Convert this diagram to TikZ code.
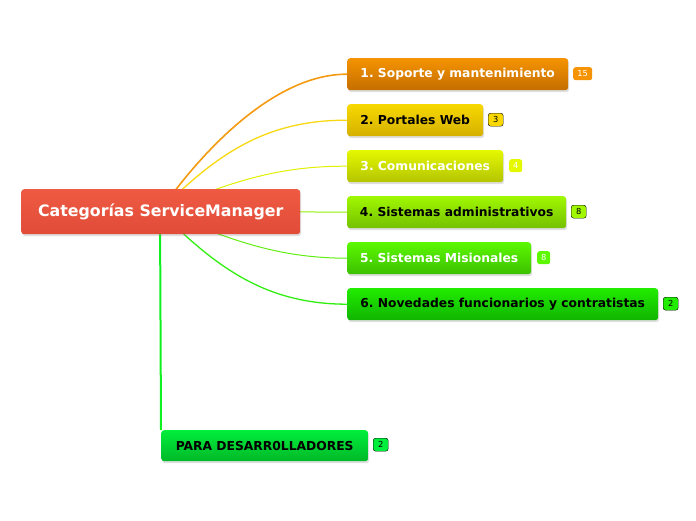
\documentclass[tikz,border=0pt]{standalone}
\usepackage{fontspec}
\setmainfont{DejaVu Sans}
\usetikzlibrary{shadows,backgrounds}
\definecolor{c0t}{HTML}{EE5A42}\definecolor{c0b}{HTML}{E04C38}
\definecolor{c1t}{HTML}{F59300}\definecolor{c1b}{HTML}{C46E00}
\definecolor{c2t}{HTML}{F8D800}\definecolor{c2b}{HTML}{D4B000}
\definecolor{c3t}{HTML}{E4F800}\definecolor{c3b}{HTML}{B4C400}
\definecolor{c4t}{HTML}{A0F800}\definecolor{c4b}{HTML}{74C000}
\definecolor{c5t}{HTML}{5CF800}\definecolor{c5b}{HTML}{3CC000}
\definecolor{c6t}{HTML}{22EC00}\definecolor{c6b}{HTML}{10B400}
\definecolor{c7t}{HTML}{00EE3C}\definecolor{c7b}{HTML}{00B828}
\definecolor{l1}{HTML}{F59A10}\definecolor{l2}{HTML}{F8D810}
\definecolor{l3}{HTML}{E0F000}\definecolor{l4}{HTML}{90EE00}
\definecolor{l5}{HTML}{60EE10}\definecolor{l6}{HTML}{30EE10}
\definecolor{l7}{HTML}{10F020}
\tikzset{
  topic/.style={rounded corners=3pt, anchor=north west, inner sep=0pt,
    font=\fontsize{12.3}{14}\selectfont\bfseries\frenchspacing,
    drop shadow={shadow xshift=1pt,shadow yshift=-2pt,opacity=0.25}},
  badge/.style={rounded corners=2.5pt, anchor=north west, inner sep=0pt,
    font=\fontsize{8.3}{9}\selectfont},
  conn/.style={line width=1pt}
}
\begin{document}
\frenchspacing
\begin{tikzpicture}[x=1pt,y=-1pt]
\useasboundingbox (0,0) rectangle (696,520);
\node[topic, top color=c0t, bottom color=c0b, text=white, minimum width=279pt, minimum height=45pt,
  font=\fontsize{15.8}{18}\selectfont\bfseries] (c) at (21,189) {Categorías ServiceManager};
\node[topic, top color=c1t, bottom color=c1b, text=white, minimum width=221pt, minimum height=32pt] (n1) at (347,58) {1. Soporte y mantenimiento};
\node[topic, top color=c2t, bottom color=c2b, text=black, minimum width=136pt, minimum height=32pt] (n2) at (347,104) {2. Portales Web};
\node[topic, top color=c3t, bottom color=c3b, text=white, minimum width=156pt, minimum height=32pt] (n3) at (347,150) {3. Comunicaciones};
\node[topic, top color=c4t, bottom color=c4b, text=black, minimum width=219pt, minimum height=32pt] (n4) at (347,196) {4. Sistemas administrativos};
\node[topic, top color=c5t, bottom color=c5b, text=white, minimum width=184pt, minimum height=32pt] (n5) at (347,242) {5. Sistemas Misionales};
\node[topic, top color=c6t, bottom color=c6b, text=black, minimum width=311pt, minimum height=32pt] (n6) at (347,288) {6. Novedades funcionarios y contratistas};
\node[topic, top color=c7t, bottom color=c7b, text=black, minimum width=207pt, minimum height=31pt] (n7) at (161,430) {PARA DESARR0LLADORES};
% badges
\node[badge, fill=c1t, text=white, minimum width=19pt, minimum height=13pt] (b1) at (573,67) {15};
\node[badge, fill=c2t, draw=black, text=black, minimum width=15pt, minimum height=13pt] (b2) at (488,113) {3};
\node[badge, fill=c3t, text=white, minimum width=13pt, minimum height=13pt] (b3) at (509,159) {4};
\node[badge, fill=c4t, draw=black, text=black, minimum width=15pt, minimum height=13pt] (b4) at (571,205) {8};
\node[badge, fill=c5t, text=white, minimum width=13pt, minimum height=13pt] (b5) at (537,251) {8};
\node[badge, fill=c6t, draw=black, text=black, minimum width=15pt, minimum height=13pt] (b6) at (663,297) {2};
\node[badge, fill=c7t, draw=black, text=black, minimum width=15pt, minimum height=13pt] (b7) at (373,438) {2};
\coordinate (o) at (160,211);
\begin{scope}[on background layer]
\draw[conn, l1, line width=1.6pt] (o) .. controls (210,140) and (280,74) .. (n1.west);
\draw[conn, l2, line width=1.3pt] (o) .. controls (220,150) and (270,120) .. (n2.west);
\draw[conn, l3] (o) .. controls (235,180) and (280,166) .. (n3.west);
\draw[conn, l4] (o) -- (n4.west);
\draw[conn, l5] (o) .. controls (235,242) and (280,258) .. (n5.west);
\draw[conn, l6, line width=1.3pt] (o) .. controls (220,272) and (270,304) .. (n6.west);
\draw[l7, line width=2pt] (o) -- (n7.north west);
\end{scope}
\end{tikzpicture}
\end{document}
